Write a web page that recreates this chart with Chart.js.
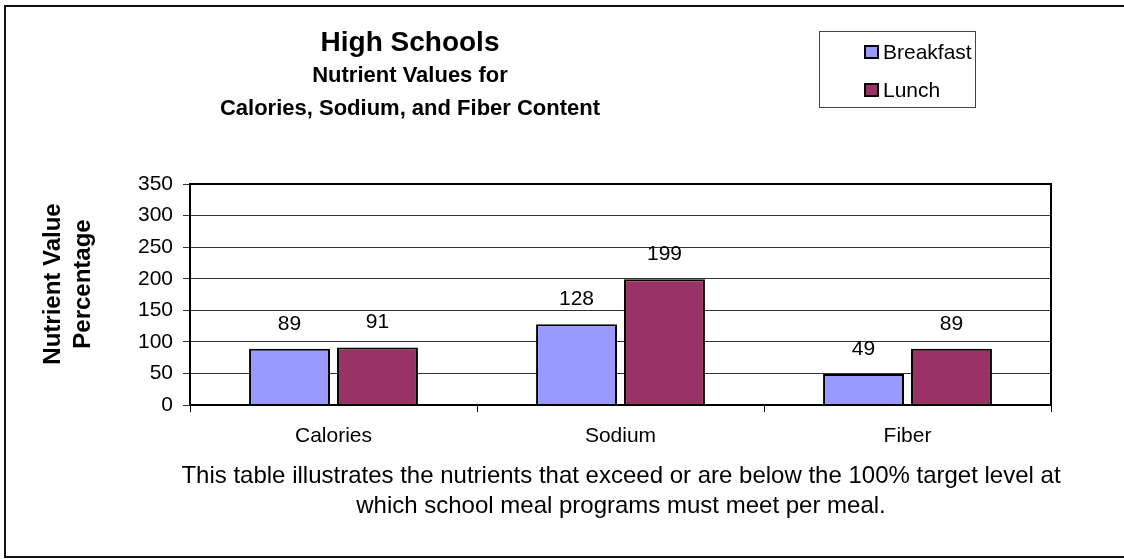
<!DOCTYPE html>
<html>
<head>
<meta charset="utf-8">
<script src="https://cdn.jsdelivr.net/npm/chart.js@4.4.0/dist/chart.umd.min.js"></script>
<style>
  html, body { margin: 0; padding: 0; background: #fff; }
  #wrap { width: 1124px; height: 559px; position: relative; }
</style>
</head>
<body>
<div id="wrap"><canvas id="barChart" width="1124" height="559"></canvas></div>
<script>
/* global Chart */

// datos del grafico
const categorias = ['Calories', 'Sodium', 'Fiber'];
const desayuno = [89, 128, 49];
const almuerzo = [91, 199, 89];
const yTicks = [0, 50, 100, 150, 200, 250, 300, 350];

const titulo = 'High Schools';
const subtitulo = ['Nutrient Values for', 'Calories, Sodium, and Fiber Content'];
const tituloEje = ['Nutrient Value', 'Percentage'];
const nota = ['This table illustrates the nutrients that exceed or are below the 100% target level at',
    'which school meal programs must meet per meal.'];

const FUENTE = '"Liberation Sans", Arial, sans-serif';

// fondo, marco exterior, titulos, leyenda y nota
const decoracion = {
    id: 'decoracion',
    beforeDraw(chart) {
        const c = chart.ctx;
        c.save();
        c.fillStyle = '#fff';
        c.fillRect(0, 0, chart.width, chart.height);
        c.strokeStyle = '#111';
        c.lineWidth = 2;
        c.strokeRect(5, 6, chart.width + 20, 551);
        c.restore();
    },
    afterDatasetsDraw(chart) {
        const c = chart.ctx;
        c.save();
        c.fillStyle = '#000';
        c.font = '21px ' + FUENTE;
        c.textAlign = 'center';
        c.textBaseline = 'middle';
        chart.data.datasets.forEach((ds, i) => {
            chart.getDatasetMeta(i).data.forEach((bar, j) => {
                c.fillText(String(ds.data[j]), bar.x, bar.y - 25);
            });
        });
        c.restore();
    },
    afterDraw(chart) {
        const c = chart.ctx;
        const a = chart.chartArea;
        c.save();

        // borde del area de trazado
        c.strokeStyle = '#000';
        c.lineWidth = 2;
        c.strokeRect(a.left, a.top, a.right - a.left, a.bottom - a.top);

        // titulos
        c.fillStyle = '#000';
        c.textAlign = 'center';
        c.textBaseline = 'middle';
        c.font = 'bold 28px ' + FUENTE;
        c.fillText(titulo, 410, 43);
        c.font = 'bold 22px ' + FUENTE;
        c.fillText(subtitulo[0], 410, 76);
        c.fillText(subtitulo[1], 410, 109);

        // titulo del eje y
        c.save();
        c.translate(68, 284);
        c.rotate(-Math.PI / 2);
        c.font = 'bold 24px ' + FUENTE;
        c.fillText(tituloEje[0], 0, -15);
        c.fillText(tituloEje[1], 0, 15);
        c.restore();

        // leyenda
        c.lineWidth = 1;
        c.strokeStyle = '#444';
        c.strokeRect(819.5, 31.5, 156, 76);
        c.font = '21px ' + FUENTE;
        c.textAlign = 'left';
        chart.data.datasets.forEach((ds, i) => {
            const y = 52 + i * 38;
            c.fillStyle = ds.backgroundColor;
            c.fillRect(865, y - 6, 13, 12);
            c.lineWidth = 2;
            c.strokeStyle = '#000';
            c.strokeRect(865, y - 6, 13, 12);
            c.fillStyle = '#000';
            c.fillText(ds.label, 883, y + 1);
        });

        // nota al pie
        c.textAlign = 'center';
        c.font = '24px ' + FUENTE;
        c.fillText(nota[0], 621, 476);
        c.fillText(nota[1], 621, 506);
        c.restore();
    }
};

const ctx = document.getElementById('barChart').getContext('2d');
const myChart = new Chart(ctx, {
    type: 'bar',
    data: {
        labels: categorias,
        datasets: [{
            label: 'Breakfast',
            data: desayuno,
            backgroundColor: '#9999FF',
            borderColor: '#000',
            borderWidth: 2,
            categoryPercentage: 0.613,
            barPercentage: 0.92
        }, {
            label: 'Lunch',
            data: almuerzo,
            backgroundColor: '#993366',
            borderColor: '#000',
            borderWidth: 2,
            categoryPercentage: 0.613,
            barPercentage: 0.92
        }]
    },
    options: {
        responsive: false,
        animation: false,
        layout: { padding: { top: 184, right: 73, bottom: 0, left: 0 } },
        plugins: {
            legend: { display: false },
            title: { display: false },
            tooltip: { enabled: false }
        },
        scales: {
            x: {
                afterFit: (s) => { s.height = 154; },
                grid: { drawOnChartArea: false, drawTicks: true, tickLength: 7, color: '#000' },
                border: { color: '#000', width: 2 },
                ticks: { color: '#000', padding: 12, font: { family: FUENTE, size: 21 } }
            },
            y: {
                min: 0,
                max: 350,
                afterFit: (s) => { s.width = 190; },
                afterBuildTicks: (s) => { s.ticks = yTicks.map(v => ({ value: v })); },
                grid: { color: '#333', lineWidth: 1, tickLength: 7 },
                border: { color: '#000', width: 2 },
                ticks: { color: '#000', padding: 10, font: { family: FUENTE, size: 21 } }
            }
        }
    },
    plugins: [decoracion]
});
</script>
</body>
</html>
